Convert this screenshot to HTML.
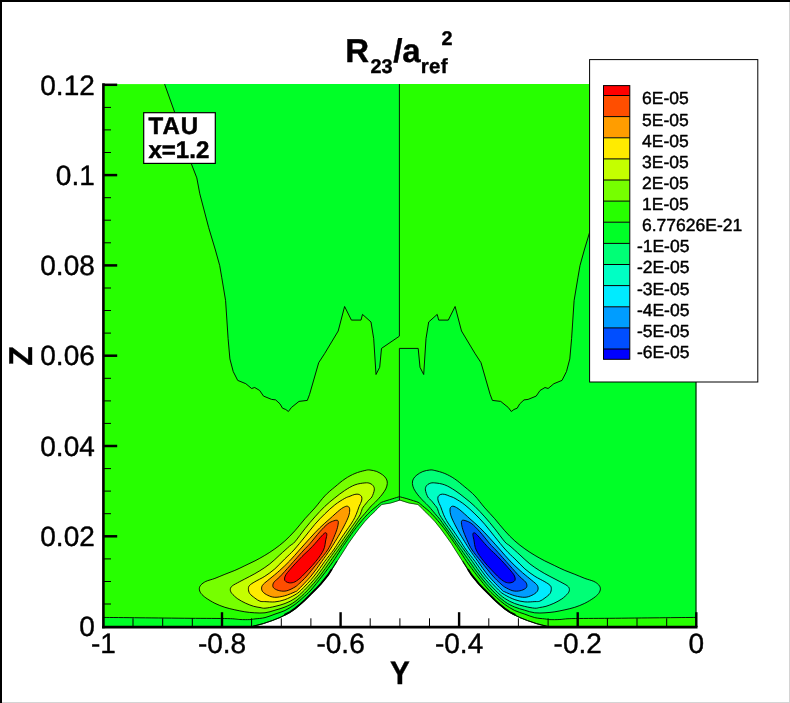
<!DOCTYPE html>
<html lang="en">
<head>
<meta charset="utf-8">
<title>R23/aref^2 contour plot, TAU x=1.2</title>
<style>
html,body{margin:0;padding:0;background:#fff;}
body{width:790px;height:703px;overflow:hidden;}
svg{display:block;will-change:transform;}
text{text-rendering:geometricPrecision;}
</style>
</head>
<body>
<svg width="790" height="703" viewBox="0 0 790 703">
<rect width="790" height="703" fill="#fff"/>
<rect x="103.4" y="84.1" width="296" height="542.9" fill="#27ff00"/>
<rect x="399.4" y="84.1" width="296.9" height="542.9" fill="#00ff27"/>
<path d="M164.6 84.1 L174.7 112.4 L191.4 163.9 L196.8 177.9 L199.8 193.8 L208.7 227.7 L215.4 250 L219.7 265.5 L221.8 277.8 L225.6 300.6 L228.1 338.6 L229.9 358.9 L233.2 371.5 L237.7 380.4 L245.8 383.7 L251.6 388.5 L254.7 387.5 L259.7 390.5 L263.5 396.1 L271.6 399.4 L275.7 399.9 L280 403.9 L282.5 408.2 L285.8 409.5 L288.4 411.5 L291.4 407.5 L299 401.4 L307.3 400.4 L309.6 394.3 L318.7 362.7 L324.8 353.3 L338.2 331 L344.6 306.5 L351.4 320.1 L361 320.1 L362.5 314.4 L371 322 L373.7 338.6 L376 374.5 L379.7 367.3 L381.5 348.4 L399.4 336.2 L399.4 84.1Z" fill="#00ff27"/>
<path d="M635.1 84.1 L625 112.4 L608.3 163.9 L602.9 177.9 L599.9 193.8 L591 227.7 L584.3 250 L580 265.5 L577.9 277.8 L574.1 300.6 L571.6 338.6 L569.8 358.9 L566.5 371.5 L562 380.4 L553.9 383.7 L548.1 388.5 L545 387.5 L540 390.5 L536.2 396.1 L528.1 399.4 L524 399.9 L519.7 403.9 L517.2 408.2 L513.9 409.5 L511.3 411.5 L508.3 407.5 L500.7 401.4 L492.4 400.4 L490.1 394.3 L481 362.7 L474.9 353.3 L461.5 331 L455.1 306.5 L448.3 320.1 L438.7 320.1 L437.2 314.4 L428.7 322 L426 338.6 L423.7 374.5 L420 367.3 L418.2 348.4 L399.4 348.4 L399.4 84.1Z" fill="#27ff00"/>
<path d="M103.4 617.4 L140 617.8 L190 618.3 L227.8 618.6 L239.8 619.5 L249.8 619.6 L255 618.9 L265 617.6 L275 614.1 L285 610.5 L295 604.4 L303 597.6 L310.9 590.1 L322.3 576 L332.9 561.7 L340.5 550 L343.5 545.5 L348.5 538.4 L353.4 531.3 L359.1 524 L364.8 517.3 L370.5 511.4 L375 507.6 L379.3 504 L381.6 502.3 L386 500.8 L392.8 498.7 L399.4 496.7 L399.4 502 L399.9 500.4 L390.8 503.3 L381.8 504.8 L377.5 508.8 L375 511.6 L370.5 515.8 L364.8 521.8 L359.1 528.9 L353.4 536.7 L348.5 543.6 L344.5 550 L337 561.7 L327.9 576 L321 584.5 L315.6 590.1 L310 595.6 L305 600.7 L300 605.2 L295 609.4 L290 612.8 L285 615.4 L280 617.9 L272.2 621 L263.3 624 L258 625.4 L252.5 626.8 L103.4 627Z" fill="#00ff27"/>
<path d="M696.3 617.4 L659.7 617.8 L609.7 618.3 L571.9 618.6 L559.9 619.5 L549.9 619.6 L544.7 618.9 L534.7 617.6 L524.7 614.1 L514.7 610.5 L504.7 604.4 L496.7 597.6 L488.8 590.1 L477.4 576 L466.8 561.7 L459.2 550 L456.2 545.5 L451.2 538.4 L446.3 531.3 L440.6 524 L434.9 517.3 L429.2 511.4 L424.7 507.6 L420.4 504 L418.1 502.3 L413.7 500.8 L406.9 498.7 L399.4 496.7 L399.4 502 L399.8 500.4 L408.9 503.3 L417.9 504.8 L422.2 508.8 L424.7 511.6 L429.2 515.8 L434.9 521.8 L440.6 528.9 L446.3 536.7 L451.2 543.6 L455.2 550 L462.7 561.7 L471.8 576 L478.7 584.5 L484.1 590.1 L489.7 595.6 L494.7 600.7 L499.7 605.2 L504.7 609.4 L509.7 612.8 L514.7 615.4 L519.7 617.9 L527.5 621 L536.4 624 L541.7 625.4 L547.2 626.8 L696.3 627Z" fill="#27ff00"/>
<rect x="398.4" y="337" width="2" height="11.4" fill="#27ff00"/>
<g fill="none" stroke="#000" stroke-width="0.9" stroke-linejoin="round">
<path d="M164.6 84.1 L174.7 112.4 L191.4 163.9 L196.8 177.9 L199.8 193.8 L208.7 227.7 L215.4 250 L219.7 265.5 L221.8 277.8 L225.6 300.6 L228.1 338.6 L229.9 358.9 L233.2 371.5 L237.7 380.4 L245.8 383.7 L251.6 388.5 L254.7 387.5 L259.7 390.5 L263.5 396.1 L271.6 399.4 L275.7 399.9 L280 403.9 L282.5 408.2 L285.8 409.5 L288.4 411.5 L291.4 407.5 L299 401.4 L307.3 400.4 L309.6 394.3 L318.7 362.7 L324.8 353.3 L338.2 331 L344.6 306.5 L351.4 320.1 L361 320.1 L362.5 314.4 L371 322 L373.7 338.6 L376 374.5 L379.7 367.3 L381.5 348.4 L399.4 336.2 L399.4 84.1"/>
<path d="M635.1 84.1 L625 112.4 L608.3 163.9 L602.9 177.9 L599.9 193.8 L591 227.7 L584.3 250 L580 265.5 L577.9 277.8 L574.1 300.6 L571.6 338.6 L569.8 358.9 L566.5 371.5 L562 380.4 L553.9 383.7 L548.1 388.5 L545 387.5 L540 390.5 L536.2 396.1 L528.1 399.4 L524 399.9 L519.7 403.9 L517.2 408.2 L513.9 409.5 L511.3 411.5 L508.3 407.5 L500.7 401.4 L492.4 400.4 L490.1 394.3 L481 362.7 L474.9 353.3 L461.5 331 L455.1 306.5 L448.3 320.1 L438.7 320.1 L437.2 314.4 L428.7 322 L426 338.6 L423.7 374.5 L420 367.3 L418.2 348.4 L399.4 348.4 L399.4 500.6"/>
<path d="M103.4 617.4C109.5 617.5 125.6 617.6 140 617.8C154.4 617.9 175.4 618.2 190 618.3C204.6 618.4 219.5 618.4 227.8 618.6C236.1 618.8 236.1 619.3 239.8 619.5C243.5 619.7 247.3 619.7 249.8 619.6C252.3 619.5 252.5 619.2 255 618.9C257.5 618.6 261.7 618.4 265 617.6C268.3 616.8 271.7 615.3 275 614.1C278.3 612.9 281.7 612.1 285 610.5C288.3 608.9 292 606.5 295 604.4C298 602.2 300.4 600 303 597.6C305.6 595.2 307.7 593.7 310.9 590.1C314.1 586.5 318.6 580.7 322.3 576C326 571.3 329.9 566 332.9 561.7C335.9 557.4 338.7 552.7 340.5 550C342.3 547.3 342.2 547.4 343.5 545.5C344.8 543.6 346.9 540.8 348.5 538.4C350.1 536 351.6 533.7 353.4 531.3C355.2 528.9 357.2 526.3 359.1 524C361 521.7 362.9 519.4 364.8 517.3C366.7 515.2 368.8 513 370.5 511.4C372.2 509.8 373.5 508.8 375 507.6C376.5 506.4 378.2 504.9 379.3 504C380.4 503.1 380.5 502.8 381.6 502.3C382.7 501.8 384.1 501.4 386 500.8C387.9 500.2 390.6 499.4 392.8 498.7C395 498 398.3 497 399.4 496.7"/>
<path d="M696.3 617.4C690.2 617.5 674.1 617.6 659.7 617.8C645.3 617.9 624.3 618.2 609.7 618.3C595.1 618.4 580.2 618.4 571.9 618.6C563.6 618.8 563.6 619.3 559.9 619.5C556.2 619.7 552.4 619.7 549.9 619.6C547.4 619.5 547.2 619.2 544.7 618.9C542.2 618.6 538 618.4 534.7 617.6C531.4 616.8 528 615.3 524.7 614.1C521.4 612.9 518 612.1 514.7 610.5C511.4 608.9 507.7 606.5 504.7 604.4C501.7 602.2 499.3 600 496.7 597.6C494 595.2 492 593.7 488.8 590.1C485.6 586.5 481.1 580.7 477.4 576C473.7 571.3 469.8 566 466.8 561.7C463.8 557.4 461 552.7 459.2 550C457.4 547.3 457.5 547.4 456.2 545.5C454.9 543.6 452.8 540.8 451.2 538.4C449.5 536 448.1 533.7 446.3 531.3C444.5 528.9 442.5 526.3 440.6 524C438.7 521.7 436.8 519.4 434.9 517.3C433 515.2 430.9 513 429.2 511.4C427.5 509.8 426.2 508.8 424.7 507.6C423.2 506.4 421.5 504.9 420.4 504C419.3 503.1 419.2 502.8 418.1 502.3C417 501.8 415.6 501.4 413.7 500.8C411.8 500.2 409.3 499.4 406.9 498.7C404.5 498 400.6 497 399.4 496.7"/>
</g>
<g stroke="#000" stroke-width="0.9" stroke-linejoin="round">
<path d="M199.3 588.8C199.3 587.4 199.9 586.1 201 584.9C202.1 583.7 203.6 582.5 205.9 581.4C208.2 580.3 211.7 579.6 214.9 578.4C218.1 577.2 221.6 575.6 224.9 574.3C228.2 573 231.6 571.8 234.9 570.4C238.2 569 241.6 567.3 244.9 565.7C248.2 564.1 251.6 562.6 254.9 560.9C258.2 559.2 261.5 557.4 264.8 555.4C268.1 553.4 271.5 551.3 274.8 548.9C278.1 546.5 281.5 544 284.8 541C288.1 538 291.5 534.5 294.9 530.8C298.2 527.1 301.6 522.6 304.9 518.8C308.2 515 311.6 511.7 314.9 507.9C318.2 504.1 321.5 499.4 324.8 495.9C328.1 492.4 331.4 489.8 334.8 487C338.2 484.2 341.6 481.1 345 478.9C348.4 476.6 351.6 474.9 354.9 473.5C358.2 472.1 362.4 471.1 364.9 470.5C367.4 469.9 367.9 469.8 369.9 470C371.9 470.2 374.6 470.7 376.8 471.5C379 472.3 381.2 473.8 382.8 475C384.4 476.2 385.6 477.5 386.3 478.9C387.1 480.3 387.4 481.7 387.3 483.4C387.2 485.1 386.7 487 385.8 488.9C384.9 490.8 383.4 492.8 381.8 494.9C380.2 496.9 377.6 499.7 376.2 501.2C374.8 502.7 374.5 502.7 373.5 503.7C372.5 504.7 371.8 505.4 370.3 507C368.9 508.6 366.5 511.5 364.8 513.5C363.1 515.5 361.5 517.1 359.9 519.2C358.2 521.3 356.6 523.9 354.9 526.3C353.2 528.7 351.6 531 349.9 533.4C348.2 535.8 346.6 538.1 344.9 540.5C343.2 542.9 341 546.1 339.9 547.7C338.8 549.3 339.6 548 338 550.3C336.4 552.6 333 557.4 330 561.7C327 566 323.5 571.3 319.8 576C316.1 580.7 311.8 585.8 307.7 590.1C303.6 594.4 298.8 598.8 295 601.6C291.2 604.4 288.3 605.6 285 607C281.7 608.4 278.3 609.2 275 610.2C271.7 611.2 268.4 612.4 265 612.8C261.6 613.2 258.1 613 254.7 612.8C251.3 612.6 248.1 612.3 244.8 611.8C241.5 611.3 238.1 610.5 234.8 609.8C231.5 609 228.2 608.4 224.9 607.3C221.6 606.2 218.1 604.9 214.9 603.3C211.7 601.7 208.2 599.5 205.9 597.9C203.6 596.2 202.1 594.9 201 593.4C199.9 591.9 199.3 590.2 199.3 588.8Z" fill="#76ff00"/>
<path d="M230.3 589.4C230.4 588.1 230.7 587.2 232.3 585.9C233.9 584.6 236.9 583.2 239.8 581.6C242.7 580 246.5 578.2 249.8 576.4C253.2 574.6 256.6 572.8 259.9 570.7C263.2 568.6 266.5 566.5 269.8 563.9C273.1 561.3 276.5 557.9 279.8 554.9C283.1 551.9 287.2 548.2 289.7 546C292.2 543.8 292.4 544.7 294.9 541.8C297.4 538.9 301.6 532.9 304.9 528.8C308.2 524.6 311.6 520.6 314.9 516.9C318.2 513.2 321.5 509.6 324.8 506.4C328.1 503.2 331.5 500.5 334.8 497.9C338.1 495.2 341.4 492.7 344.7 490.5C348 488.3 351.5 486.2 354.9 484.9C358.3 483.6 362.4 483.1 364.9 482.9C367.4 482.6 368.5 482.9 369.9 483.4C371.3 483.9 372.6 484.8 373.3 485.9C374 487 374.5 488.1 374.3 489.9C374.1 491.7 372.9 495.1 371.9 496.9C370.9 498.7 369.3 499.5 368.4 500.5C367.5 501.5 367.6 501.5 366.6 502.8C365.6 504.1 363.3 506.6 362.3 508.5C361.3 510.4 361.4 512.2 360.4 514.2C359.4 516.2 357.8 518.4 356.3 520.6C354.8 522.9 353 525.3 351.3 527.7C349.6 530.1 348 532.5 346.3 534.9C344.6 537.3 343.2 539.5 341.4 542C339.6 544.5 338 546.7 335.6 550C333.2 553.3 330.3 557.4 327.2 561.7C324.1 566 320.9 571.3 317.1 576C313.3 580.7 308.2 586.4 304.5 590.1C300.8 593.8 298.2 596.2 295 598.4C291.8 600.6 288.3 602.2 285 603.5C281.7 604.8 278.3 605.6 275 606.4C271.7 607.2 267.5 608 265 608.2C262.5 608.4 261.9 607.8 260 607.5C258.1 607.2 256.1 607 253.7 606.3C251.3 605.6 248.5 604.5 245.8 603.3C243.2 602.1 240.1 600.5 237.8 598.9C235.5 597.2 233.1 595 231.8 593.4C230.6 591.8 230.2 590.6 230.3 589.4Z" fill="#c4ff00"/>
<path d="M248.4 588.6C248.4 587.2 248.7 586.3 249.8 585.2C250.9 584.1 252.3 583.3 254.8 581.8C257.3 580.3 261.5 578.4 264.8 576.3C268.1 574.1 271.5 571.8 274.8 568.9C278.1 566 281.6 562 284.8 558.9C288 555.8 290.5 553.7 293.9 550C297.2 546.3 301.4 541.1 304.9 536.8C308.4 532.5 311.6 528.1 314.9 524.3C318.2 520.5 321.5 517.1 324.8 513.9C328.1 510.7 331.5 507.5 334.8 504.9C338.1 502.3 342.2 499.8 344.7 498.4C347.2 496.9 348.3 496.9 350 496.2C351.7 495.5 353.4 494.7 354.9 494.4C356.4 494.1 357.8 494 358.9 494.4C360 494.8 361.3 495.8 361.7 496.9C362.1 498 361.9 499.4 361.5 501C361.1 502.6 360 504.3 359.1 506.5C358.2 508.7 357.3 511.9 356.3 514.2C355.3 516.6 354.5 518.4 353.2 520.6C351.9 522.9 350.1 525.3 348.5 527.7C346.9 530.1 345.1 532.6 343.5 534.9C341.9 537.2 340.9 538.8 339.2 541.3C337.5 543.8 335.9 546.6 333.5 550C331.1 553.4 327.7 557.4 324.5 561.7C321.3 566 318.1 571.3 314.2 576C310.3 580.7 304.3 587 301.1 590.1C297.9 593.2 297.7 593.2 295 594.8C292.3 596.4 288.2 598.5 284.8 599.7C281.4 600.9 278.1 601.6 274.8 601.9C271.5 602.2 267.3 601.7 264.8 601.6C262.3 601.5 261.7 601.8 260 601.2C258.3 600.6 256.5 599.3 254.8 598C253.1 596.7 250.8 595.1 249.7 593.5C248.6 591.9 248.4 590 248.4 588.6Z" fill="#ffeb00"/>
<path d="M261.6 588C261.7 586.8 261.9 585.8 263.3 584.3C264.7 582.8 267.1 581.1 269.8 578.8C272.6 576.5 276.5 573.4 279.8 570.4C283.1 567.4 286.4 564.3 289.7 560.9C293 557.5 296 553.8 299.4 550C302.8 546.2 306.5 542 309.9 538.3C313.3 534.6 316.5 531 319.8 527.8C323.1 524.5 326.5 521.8 329.8 518.8C333.1 515.8 337.2 512 339.8 509.9C342.4 507.8 344.2 506.9 345.7 506.4C347.2 505.9 348 506.3 348.7 506.9C349.4 507.5 349.7 508.4 349.7 509.9C349.7 511.4 349.5 513.4 348.7 515.9C347.9 518.4 346.2 521.8 344.7 524.8C343.2 527.8 341.6 530.6 339.8 533.8C338 536.9 335.5 541 333.8 543.7C332.1 546.4 331.8 547 329.8 550C327.8 553 324.7 557.4 321.6 561.7C318.5 566 315.1 571.3 311.1 576C307.1 580.7 300.4 587.5 297.7 590.1C295 592.7 297.1 590.8 295 591.8C292.9 592.8 288.2 594.9 284.8 595.8C281.4 596.7 277.6 597.4 274.8 597.3C272 597.2 269.8 596.2 267.8 595.3C265.8 594.4 263.8 593 262.8 591.8C261.8 590.6 261.5 589.2 261.6 588Z" fill="#ff9d00"/>
<path d="M272.8 585.6C272.8 584.5 273.1 583.3 274.3 581.8C275.5 580.3 277.2 579.4 279.8 576.8C282.4 574.1 287.2 568.7 289.7 565.9C292.2 563.1 292.6 562.5 295 559.9C297.4 557.2 301.4 552.7 303.9 550C306.4 547.3 307.2 546.7 309.9 543.7C312.5 540.7 316.8 535.1 319.8 531.8C322.8 528.5 325.5 525.6 327.8 523.8C330.1 522 332.2 521.4 333.8 520.8C335.4 520.2 336.6 520 337.3 520.3C338.1 520.6 338.4 521.2 338.3 522.8C338.2 524.4 337.7 527 336.8 529.8C335.9 532.6 334.3 536.4 332.8 539.8C331.3 543.2 330 546.4 327.6 550C325.2 553.6 322 557.4 318.5 561.7C315 566 309.9 572.5 306.8 576C303.7 579.5 302 581 300 582.8C298 584.6 297.2 585.7 295 587C292.8 588.3 289.3 590.2 286.8 590.8C284.3 591.4 281.9 591.2 279.8 590.8C277.7 590.4 275.5 589.4 274.3 588.5C273.1 587.6 272.8 586.7 272.8 585.6Z" fill="#ff4e00"/>
<path d="M284.5 579C284.5 577.9 284.9 576.3 285.8 574.8C286.7 573.3 288.2 571.7 289.7 569.9C291.2 568.1 292.9 566.1 295 563.9C297.1 561.7 299.5 559 302 556.5C304.5 554 307.8 551.1 309.9 549C312 546.9 312.9 545.9 314.9 543.7C316.9 541.5 320.1 537.6 321.8 535.8C323.5 534 324.5 533 325.3 532.8C326.1 532.5 326.7 533.1 326.8 534.3C326.9 535.5 326.4 537.2 325.8 539.8C325.2 542.4 325.2 546.4 323.5 550C321.8 553.6 319.1 557.4 315.6 561.7C312.1 566 305.7 572.6 302.3 576C298.9 579.4 297.1 580.6 295 581.8C292.9 582.9 291.2 582.9 289.7 582.9C288.2 582.9 286.7 582.1 285.8 581.5C284.9 580.9 284.5 580.1 284.5 579Z" fill="#ff0000"/>
<path d="M600.4 588.8C600.4 587.4 599.8 586.1 598.7 584.9C597.6 583.7 596.1 582.5 593.8 581.4C591.5 580.3 588 579.6 584.8 578.4C581.6 577.2 578.1 575.6 574.8 574.3C571.5 573 568.1 571.8 564.8 570.4C561.5 569 558.1 567.3 554.8 565.7C551.5 564.1 548.1 562.6 544.8 560.9C541.5 559.2 538.2 557.4 534.9 555.4C531.6 553.4 528.2 551.3 524.9 548.9C521.6 546.5 518.2 544 514.9 541C511.5 538 508.1 534.5 504.8 530.8C501.4 527.1 498.1 522.6 494.8 518.8C491.5 515 488.1 511.7 484.8 507.9C481.5 504.1 478.2 499.4 474.9 495.9C471.6 492.4 468.3 489.8 464.9 487C461.5 484.2 458 481.1 454.7 478.9C451.3 476.6 448.1 474.9 444.8 473.5C441.5 472.1 437.3 471.1 434.8 470.5C432.3 469.9 431.8 469.8 429.8 470C427.8 470.2 425 470.7 422.9 471.5C420.7 472.3 418.5 473.8 416.9 475C415.3 476.2 414.1 477.5 413.4 478.9C412.6 480.3 412.3 481.7 412.4 483.4C412.5 485.1 413 487 413.9 488.9C414.8 490.8 416.3 492.8 417.9 494.9C419.5 496.9 422.1 499.7 423.5 501.2C424.9 502.7 425.2 502.7 426.2 503.7C427.2 504.7 427.9 505.4 429.4 507C430.8 508.6 433.2 511.5 434.9 513.5C436.6 515.5 438.1 517.1 439.8 519.2C441.4 521.3 443.1 523.9 444.8 526.3C446.5 528.7 448.1 531 449.8 533.4C451.5 535.8 453.1 538.1 454.8 540.5C456.5 542.9 458.6 546.1 459.8 547.7C460.9 549.3 460 548 461.7 550.3C463.3 552.6 466.7 557.4 469.7 561.7C472.7 566 476.2 571.3 479.9 576C483.6 580.7 487.9 585.8 492 590.1C496.1 594.4 500.9 598.8 504.7 601.6C508.5 604.4 511.4 605.6 514.7 607C518 608.4 521.4 609.2 524.7 610.2C528 611.2 531.3 612.4 534.7 612.8C538.1 613.2 541.6 613 545 612.8C548.4 612.6 551.6 612.3 554.9 611.8C558.2 611.3 561.6 610.5 564.9 609.8C568.2 609 571.5 608.4 574.8 607.3C578.1 606.2 581.6 604.9 584.8 603.3C588 601.7 591.5 599.5 593.8 597.9C596.1 596.2 597.6 594.9 598.7 593.4C599.8 591.9 600.4 590.2 600.4 588.8Z" fill="#00ff76"/>
<path d="M569.4 589.4C569.3 588.1 569 587.2 567.4 585.9C565.8 584.6 562.8 583.2 559.9 581.6C557 580 553.2 578.2 549.9 576.4C546.5 574.6 543.1 572.8 539.8 570.7C536.5 568.6 533.2 566.5 529.9 563.9C526.6 561.3 523.2 557.9 519.9 554.9C516.6 551.9 512.5 548.2 510 546C507.5 543.8 507.3 544.7 504.8 541.8C502.3 538.9 498.1 532.9 494.8 528.8C491.5 524.6 488.1 520.6 484.8 516.9C481.5 513.2 478.2 509.6 474.9 506.4C471.6 503.2 468.2 500.5 464.9 497.9C461.6 495.2 458.3 492.7 455 490.5C451.6 488.3 448.2 486.2 444.8 484.9C441.4 483.6 437.3 483.1 434.8 482.9C432.3 482.6 431.2 482.9 429.8 483.4C428.4 483.9 427.1 484.8 426.4 485.9C425.7 487 425.2 488.1 425.4 489.9C425.6 491.7 426.8 495.1 427.8 496.9C428.8 498.7 430.4 499.5 431.3 500.5C432.2 501.5 432.1 501.5 433.1 502.8C434.1 504.1 436.4 506.6 437.4 508.5C438.4 510.4 438.3 512.2 439.3 514.2C440.3 516.2 441.9 518.4 443.4 520.6C444.9 522.9 446.7 525.3 448.4 527.7C450.1 530.1 451.7 532.5 453.4 534.9C455 537.3 456.5 539.5 458.3 542C460.1 544.5 461.7 546.7 464.1 550C466.5 553.3 469.4 557.4 472.5 561.7C475.6 566 478.8 571.3 482.6 576C486.4 580.7 491.5 586.4 495.2 590.1C498.9 593.8 501.4 596.2 504.7 598.4C507.9 600.6 511.4 602.2 514.7 603.5C518 604.8 521.4 605.6 524.7 606.4C528 607.2 532.2 608 534.7 608.2C537.2 608.4 537.8 607.8 539.7 607.5C541.6 607.2 543.6 607 546 606.3C548.4 605.6 551.2 604.5 553.9 603.3C556.5 602.1 559.6 600.5 561.9 598.9C564.2 597.2 566.6 595 567.9 593.4C569.1 591.8 569.5 590.6 569.4 589.4Z" fill="#00ffc4"/>
<path d="M551.3 588.6C551.3 587.2 551 586.3 549.9 585.2C548.8 584.1 547.4 583.3 544.9 581.8C542.4 580.3 538.2 578.4 534.9 576.3C531.6 574.1 528.2 571.8 524.9 568.9C521.6 566 518.1 562 514.9 558.9C511.7 555.8 509.1 553.7 505.8 550C502.4 546.3 498.3 541.1 494.8 536.8C491.3 532.5 488.1 528.1 484.8 524.3C481.5 520.5 478.2 517.1 474.9 513.9C471.6 510.7 468.2 507.5 464.9 504.9C461.6 502.3 457.5 499.8 455 498.4C452.5 496.9 451.4 496.9 449.7 496.2C448 495.5 446.3 494.7 444.8 494.4C443.3 494.1 441.9 494 440.8 494.4C439.7 494.8 438.4 495.8 438 496.9C437.6 498 437.8 499.4 438.2 501C438.6 502.6 439.7 504.3 440.6 506.5C441.5 508.7 442.4 511.9 443.4 514.2C444.4 516.6 445.2 518.4 446.5 520.6C447.8 522.9 449.6 525.3 451.2 527.7C452.8 530.1 454.6 532.6 456.2 534.9C457.7 537.2 458.8 538.8 460.5 541.3C462.2 543.8 463.7 546.6 466.2 550C468.6 553.4 472 557.4 475.2 561.7C478.4 566 481.6 571.3 485.5 576C489.4 580.7 495.4 587 498.6 590.1C501.8 593.2 502 593.2 504.7 594.8C507.4 596.4 511.5 598.5 514.9 599.7C518.3 600.9 521.6 601.6 524.9 601.9C528.2 602.2 532.4 601.7 534.9 601.6C537.4 601.5 538 601.8 539.7 601.2C541.4 600.6 543.2 599.3 544.9 598C546.6 596.7 548.9 595.1 550 593.5C551.1 591.9 551.3 590 551.3 588.6Z" fill="#00ebff"/>
<path d="M538.1 588C538 586.8 537.8 585.8 536.4 584.3C535 582.8 532.6 581.1 529.9 578.8C527.1 576.5 523.2 573.4 519.9 570.4C516.6 567.4 513.3 564.3 510 560.9C506.7 557.5 503.7 553.8 500.3 550C496.9 546.2 493.2 542 489.8 538.3C486.4 534.6 483.2 531 479.9 527.8C476.6 524.5 473.2 521.8 469.9 518.8C466.6 515.8 462.5 512 459.9 509.9C457.2 507.8 455.5 506.9 454 506.4C452.5 505.9 451.7 506.3 451 506.9C450.3 507.5 450 508.4 450 509.9C450 511.4 450.2 513.4 451 515.9C451.8 518.4 453.5 521.8 455 524.8C456.5 527.8 458.1 530.6 459.9 533.8C461.7 536.9 464.2 541 465.9 543.7C467.6 546.4 467.9 547 469.9 550C471.9 553 475 557.4 478.1 561.7C481.2 566 484.6 571.3 488.6 576C492.6 580.7 499.3 587.5 502 590.1C504.7 592.7 502.5 590.8 504.7 591.8C506.8 592.8 511.5 594.9 514.9 595.8C518.3 596.7 522.1 597.4 524.9 597.3C527.7 597.2 529.9 596.2 531.9 595.3C533.9 594.4 535.9 593 536.9 591.8C537.9 590.6 538.2 589.2 538.1 588Z" fill="#009dff"/>
<path d="M526.9 585.6C526.9 584.5 526.6 583.3 525.4 581.8C524.2 580.3 522.5 579.4 519.9 576.8C517.3 574.1 512.5 568.7 510 565.9C507.5 563.1 507.1 562.5 504.7 559.9C502.3 557.2 498.3 552.7 495.8 550C493.3 547.3 492.4 546.7 489.8 543.7C487.1 540.7 482.9 535.1 479.9 531.8C476.9 528.5 474.2 525.6 471.9 523.8C469.6 522 467.5 521.4 465.9 520.8C464.3 520.2 463.1 520 462.4 520.3C461.6 520.6 461.3 521.2 461.4 522.8C461.5 524.4 462 527 462.9 529.8C463.8 532.6 465.4 536.4 466.9 539.8C468.4 543.2 469.7 546.4 472.1 550C474.5 553.6 477.7 557.4 481.2 561.7C484.7 566 489.8 572.5 492.9 576C496 579.5 497.7 581 499.7 582.8C501.7 584.6 502.5 585.7 504.7 587C506.9 588.3 510.4 590.2 512.9 590.8C515.4 591.4 517.8 591.2 519.9 590.8C522 590.4 524.2 589.4 525.4 588.5C526.6 587.6 526.9 586.7 526.9 585.6Z" fill="#004eff"/>
<path d="M515.2 579C515.2 577.9 514.8 576.3 513.9 574.8C513 573.3 511.5 571.7 510 569.9C508.5 568.1 506.7 566.1 504.7 563.9C502.6 561.7 500.2 559 497.7 556.5C495.2 554 491.9 551.1 489.8 549C487.6 546.9 486.8 545.9 484.8 543.7C482.8 541.5 479.6 537.6 477.9 535.8C476.2 534 475.2 533 474.4 532.8C473.6 532.5 473 533.1 472.9 534.3C472.8 535.5 473.3 537.2 473.9 539.8C474.4 542.4 474.5 546.4 476.2 550C477.9 553.6 480.6 557.4 484.1 561.7C487.6 566 494 572.6 497.4 576C500.8 579.4 502.6 580.6 504.7 581.8C506.8 582.9 508.5 582.9 510 582.9C511.5 582.9 513 582.1 513.9 581.5C514.8 580.9 515.2 580.1 515.2 579Z" fill="#0000ff"/>
</g>
<path d="M252.5 626.8 L258 625.4 L263.3 624 L272.2 621 L280 617.9 L285 615.4 L290 612.8 L295 609.4 L300 605.2 L305 600.7 L310 595.6 L315.6 590.1 L321 584.5 L327.9 576 L337 561.7 L344.5 550 L348.5 543.6 L353.4 536.7 L359.1 528.9 L364.8 521.8 L370.5 515.8 L375 511.6 L377.5 508.8 L381.8 504.8 L390.8 503.3 L399.9 500.4 L408.9 503.3 L417.9 504.8 L422.2 508.8 L424.7 511.6 L429.2 515.8 L434.9 521.8 L440.6 528.9 L446.3 536.7 L451.2 543.6 L455.2 550 L462.7 561.7 L471.8 576 L478.7 584.5 L484.1 590.1 L489.7 595.6 L494.7 600.7 L499.7 605.2 L504.7 609.4 L509.7 612.8 L514.7 615.4 L519.7 617.9 L527.5 621 L536.4 624 L541.7 625.4 L547.2 626.8 L547.2 630 L252.5 630Z" fill="#fff"/>
<path d="M252.5 626.5 L258 625.1 L263.3 623.7 L272.2 620.7 L280 617.6 L285 615.1 L290 612.5 L295 609.1 L300 604.9 L305 600.4 L310 595.3 L315.6 589.8 L321 584.2 L327.9 575.7 L337 561.4 L344.5 549.7 L348.5 543.3 L353.4 536.4 L359.1 528.6 L364.8 521.5 L370.5 515.5 L375 511.3 L377.5 508.5 L381.8 504.5 L390.8 503 L399.9 500.1 L408.9 503 L417.9 504.5 L422.2 508.5 L424.7 511.3 L429.2 515.5 L434.9 521.5 L440.6 528.6 L446.3 536.4 L451.2 543.3 L455.2 549.7 L462.7 561.4 L471.8 575.7 L478.7 584.2 L484.1 589.8 L489.7 595.3 L494.7 600.4 L499.7 604.9 L504.7 609.1 L509.7 612.5 L514.7 615.1 L519.7 617.6 L527.5 620.7 L536.4 623.7 L541.7 625.1 L547.2 626.5" fill="none" stroke="#000" stroke-width="0.9" stroke-opacity="0.7"/>
<path d="M252.5 626.3 L258 624.9 L263.3 623.5 L272.2 620.5 L280 617.4 L285 614.9" fill="none" stroke="#000" stroke-width="1"/>
<path d="M285 614.6 L290 612 L295 608.6 L300 604.4 L305 599.9 L310 594.8 L315.6 589.3 L321 583.7 L327.9 575.2 L331.4 569.8" fill="none" stroke="#000" stroke-width="1.9" stroke-linecap="round"/>
<path d="M331.4 570 L337 561.1" fill="none" stroke="#000" stroke-width="1.1" stroke-opacity="0.75"/>
<path d="M547.2 626.3 L541.7 624.9 L536.4 623.5 L527.5 620.5 L519.7 617.4 L514.7 614.9" fill="none" stroke="#000" stroke-width="1"/>
<path d="M514.7 614.6 L509.7 612 L504.7 608.6 L499.7 604.4 L494.7 599.9 L489.7 594.8 L484.1 589.3 L478.7 583.7 L471.8 575.2 L468.3 569.8" fill="none" stroke="#000" stroke-width="1.9" stroke-linecap="round"/>
<path d="M468.3 570 L462.7 561.1" fill="none" stroke="#000" stroke-width="1.1" stroke-opacity="0.75"/>
<line x1="696" y1="84.1" x2="696" y2="627" stroke="#000" stroke-width="1"/>
<g stroke="#000" fill="none">
<line x1="103.4" y1="83.2" x2="103.4" y2="628.3" stroke-width="2.6"/>
<line x1="102.1" y1="627.1" x2="697.5" y2="627.1" stroke-width="2.6"/>
<line x1="103.4" y1="604" x2="111" y2="604" stroke-width="1"/>
<line x1="103.4" y1="581.5" x2="111" y2="581.5" stroke-width="1"/>
<line x1="103.4" y1="558.9" x2="111" y2="558.9" stroke-width="1"/>
<line x1="103.4" y1="536.3" x2="117.2" y2="536.3" stroke-width="2.5"/>
<line x1="103.4" y1="513.7" x2="111" y2="513.7" stroke-width="1"/>
<line x1="103.4" y1="491.1" x2="111" y2="491.1" stroke-width="1"/>
<line x1="103.4" y1="468.6" x2="111" y2="468.6" stroke-width="1"/>
<line x1="103.4" y1="446" x2="117.2" y2="446" stroke-width="2.5"/>
<line x1="103.4" y1="423.4" x2="111" y2="423.4" stroke-width="1"/>
<line x1="103.4" y1="400.9" x2="111" y2="400.9" stroke-width="1"/>
<line x1="103.4" y1="378.3" x2="111" y2="378.3" stroke-width="1"/>
<line x1="103.4" y1="355.7" x2="117.2" y2="355.7" stroke-width="2.5"/>
<line x1="103.4" y1="333.1" x2="111" y2="333.1" stroke-width="1"/>
<line x1="103.4" y1="310.5" x2="111" y2="310.5" stroke-width="1"/>
<line x1="103.4" y1="288" x2="111" y2="288" stroke-width="1"/>
<line x1="103.4" y1="265.4" x2="117.2" y2="265.4" stroke-width="2.5"/>
<line x1="103.4" y1="242.8" x2="111" y2="242.8" stroke-width="1"/>
<line x1="103.4" y1="220.2" x2="111" y2="220.2" stroke-width="1"/>
<line x1="103.4" y1="197.7" x2="111" y2="197.7" stroke-width="1"/>
<line x1="103.4" y1="175.1" x2="117.2" y2="175.1" stroke-width="2.5"/>
<line x1="103.4" y1="152.5" x2="111" y2="152.5" stroke-width="1"/>
<line x1="103.4" y1="129.9" x2="111" y2="129.9" stroke-width="1"/>
<line x1="103.4" y1="107.4" x2="111" y2="107.4" stroke-width="1"/>
<line x1="103.4" y1="84.8" x2="117.2" y2="84.8" stroke-width="2.5"/>
<line x1="133" y1="618.3" x2="133" y2="627.1" stroke-width="1"/>
<line x1="162.7" y1="618.3" x2="162.7" y2="627.1" stroke-width="1"/>
<line x1="192.3" y1="618.3" x2="192.3" y2="627.1" stroke-width="1"/>
<line x1="222" y1="612.2" x2="222" y2="627.1" stroke-width="2.4"/>
<line x1="251.6" y1="618.3" x2="251.6" y2="627.1" stroke-width="1"/>
<line x1="281.3" y1="618.3" x2="281.3" y2="627.1" stroke-width="1"/>
<line x1="310.9" y1="618.3" x2="310.9" y2="627.1" stroke-width="1"/>
<line x1="340.6" y1="612.2" x2="340.6" y2="627.1" stroke-width="2.4"/>
<line x1="370.2" y1="618.3" x2="370.2" y2="627.1" stroke-width="1"/>
<line x1="399.9" y1="618.3" x2="399.9" y2="627.1" stroke-width="1"/>
<line x1="429.5" y1="618.3" x2="429.5" y2="627.1" stroke-width="1"/>
<line x1="459.1" y1="612.2" x2="459.1" y2="627.1" stroke-width="2.4"/>
<line x1="488.8" y1="618.3" x2="488.8" y2="627.1" stroke-width="1"/>
<line x1="518.4" y1="618.3" x2="518.4" y2="627.1" stroke-width="1"/>
<line x1="548.1" y1="618.3" x2="548.1" y2="627.1" stroke-width="1"/>
<line x1="577.7" y1="612.2" x2="577.7" y2="627.1" stroke-width="2.4"/>
<line x1="607.4" y1="618.3" x2="607.4" y2="627.1" stroke-width="1"/>
<line x1="637" y1="618.3" x2="637" y2="627.1" stroke-width="1"/>
<line x1="666.7" y1="618.3" x2="666.7" y2="627.1" stroke-width="1"/>
<line x1="696.3" y1="612.2" x2="696.3" y2="627.1" stroke-width="2.4"/>
</g>
<g font-family="'Liberation Sans', sans-serif" fill="#000" stroke="#000" stroke-width="0.4" stroke-linejoin="round">
<text x="94.8" y="636.3" font-size="28" text-anchor="end">0</text>
<text x="94.8" y="546" font-size="28" text-anchor="end">0.02</text>
<text x="94.8" y="455.7" font-size="28" text-anchor="end">0.04</text>
<text x="94.8" y="365.4" font-size="28" text-anchor="end">0.06</text>
<text x="94.8" y="275.1" font-size="28" text-anchor="end">0.08</text>
<text x="94.8" y="184.8" font-size="28" text-anchor="end">0.1</text>
<text x="94.8" y="94.5" font-size="28" text-anchor="end">0.12</text>
<text x="103.4" y="652.8" font-size="28" text-anchor="middle">-1</text>
<text x="222" y="652.8" font-size="28" text-anchor="middle">-0.8</text>
<text x="340.6" y="652.8" font-size="28" text-anchor="middle">-0.6</text>
<text x="459.1" y="652.8" font-size="28" text-anchor="middle">-0.4</text>
<text x="577.7" y="652.8" font-size="28" text-anchor="middle">-0.2</text>
<text x="696.3" y="652.8" font-size="28" text-anchor="middle">0</text>
<text transform="translate(399.8 683.9) scale(0.91 1)" font-size="32.6" font-weight="bold" text-anchor="middle">Y</text>
<text transform="translate(31.7 355.9) rotate(-90) scale(0.97 1)" font-size="33" font-weight="bold" text-anchor="middle">Z</text>
<text x="345.3" y="62.3" font-size="33" font-weight="bold">R</text>
<text x="370.5" y="72.6" font-size="19.8" font-weight="bold">23</text>
<text x="393.2" y="62.3" font-size="33" font-weight="bold">/</text>
<text x="402.3" y="62.3" font-size="33" font-weight="bold">a</text>
<text x="420.8" y="72.6" font-size="20.5" font-weight="bold" letter-spacing="0.3">ref</text>
<text x="441.4" y="44.9" font-size="19.8" font-weight="bold">2</text>
</g>
<rect x="143.7" y="112.7" width="71.6" height="50.7" fill="#fff" stroke="#000" stroke-width="1.2"/>
<g font-family="'Liberation Sans', sans-serif" fill="#000" font-size="24" font-weight="bold" stroke="#000" stroke-width="0.5" stroke-linejoin="round">
<text x="148.5" y="133.7" letter-spacing="1">TAU</text>
<text x="148.5" y="158.2">x=1.2</text>
</g>
<rect x="589.6" y="59.6" width="168.2" height="322.4" fill="#fff" stroke="#000" stroke-width="1"/>
<rect x="603.5" y="85.6" width="26.3" height="9.9" fill="#ff0000"/>
<rect x="603.5" y="95.5" width="26.3" height="21.1" fill="#ff4e00"/>
<rect x="603.5" y="116.6" width="26.3" height="21.1" fill="#ff9d00"/>
<rect x="603.5" y="137.8" width="26.3" height="21.1" fill="#ffeb00"/>
<rect x="603.5" y="158.9" width="26.3" height="21.1" fill="#c4ff00"/>
<rect x="603.5" y="180" width="26.3" height="21.1" fill="#76ff00"/>
<rect x="603.5" y="201.1" width="26.3" height="21.1" fill="#27ff00"/>
<rect x="603.5" y="222.2" width="26.3" height="21.1" fill="#00ff27"/>
<rect x="603.5" y="243.4" width="26.3" height="21.1" fill="#00ff76"/>
<rect x="603.5" y="264.5" width="26.3" height="21.1" fill="#00ffc4"/>
<rect x="603.5" y="285.6" width="26.3" height="21.1" fill="#00ebff"/>
<rect x="603.5" y="306.8" width="26.3" height="21.1" fill="#009dff"/>
<rect x="603.5" y="327.9" width="26.3" height="21.1" fill="#004eff"/>
<rect x="603.5" y="349" width="26.3" height="10.3" fill="#0000ff"/>
<g stroke="#000" stroke-width="1" fill="none">
<rect x="603.5" y="85.6" width="26.3" height="273.7"/>
<line x1="603.5" y1="95.5" x2="629.8" y2="95.5"/>
<line x1="603.5" y1="116.6" x2="629.8" y2="116.6"/>
<line x1="603.5" y1="137.8" x2="629.8" y2="137.8"/>
<line x1="603.5" y1="158.9" x2="629.8" y2="158.9"/>
<line x1="603.5" y1="180" x2="629.8" y2="180"/>
<line x1="603.5" y1="201.1" x2="629.8" y2="201.1"/>
<line x1="603.5" y1="222.2" x2="629.8" y2="222.2"/>
<line x1="603.5" y1="243.4" x2="629.8" y2="243.4"/>
<line x1="603.5" y1="264.5" x2="629.8" y2="264.5"/>
<line x1="603.5" y1="285.6" x2="629.8" y2="285.6"/>
<line x1="603.5" y1="306.8" x2="629.8" y2="306.8"/>
<line x1="603.5" y1="327.9" x2="629.8" y2="327.9"/>
<line x1="603.5" y1="349" x2="629.8" y2="349"/>
</g>
<g font-family="'Liberation Sans', sans-serif" fill="#000" font-size="17.5" stroke="#000" stroke-width="0.45" stroke-linejoin="round">
<text x="642" y="104.4">6E-05</text>
<text x="642" y="125.5">5E-05</text>
<text x="642" y="146.7">4E-05</text>
<text x="642" y="167.8">3E-05</text>
<text x="642" y="188.9">2E-05</text>
<text x="642" y="210">1E-05</text>
<text x="642" y="231.2">6.77626E-21</text>
<text x="636.9" y="252.3">-1E-05</text>
<text x="636.9" y="273.4">-2E-05</text>
<text x="636.9" y="294.5">-3E-05</text>
<text x="636.9" y="315.6">-4E-05</text>
<text x="636.9" y="336.8">-5E-05</text>
<text x="636.9" y="357.9">-6E-05</text>
</g>
<rect x="0" y="0" width="790" height="2" fill="#000"/>
<rect x="0" y="0" width="2" height="703" fill="#000"/>
<rect x="789" y="2" width="1" height="701" fill="#d4d4d4"/>
<rect x="2" y="702" width="788" height="1" fill="#d4d4d4"/>
</svg>
</body>
</html>
